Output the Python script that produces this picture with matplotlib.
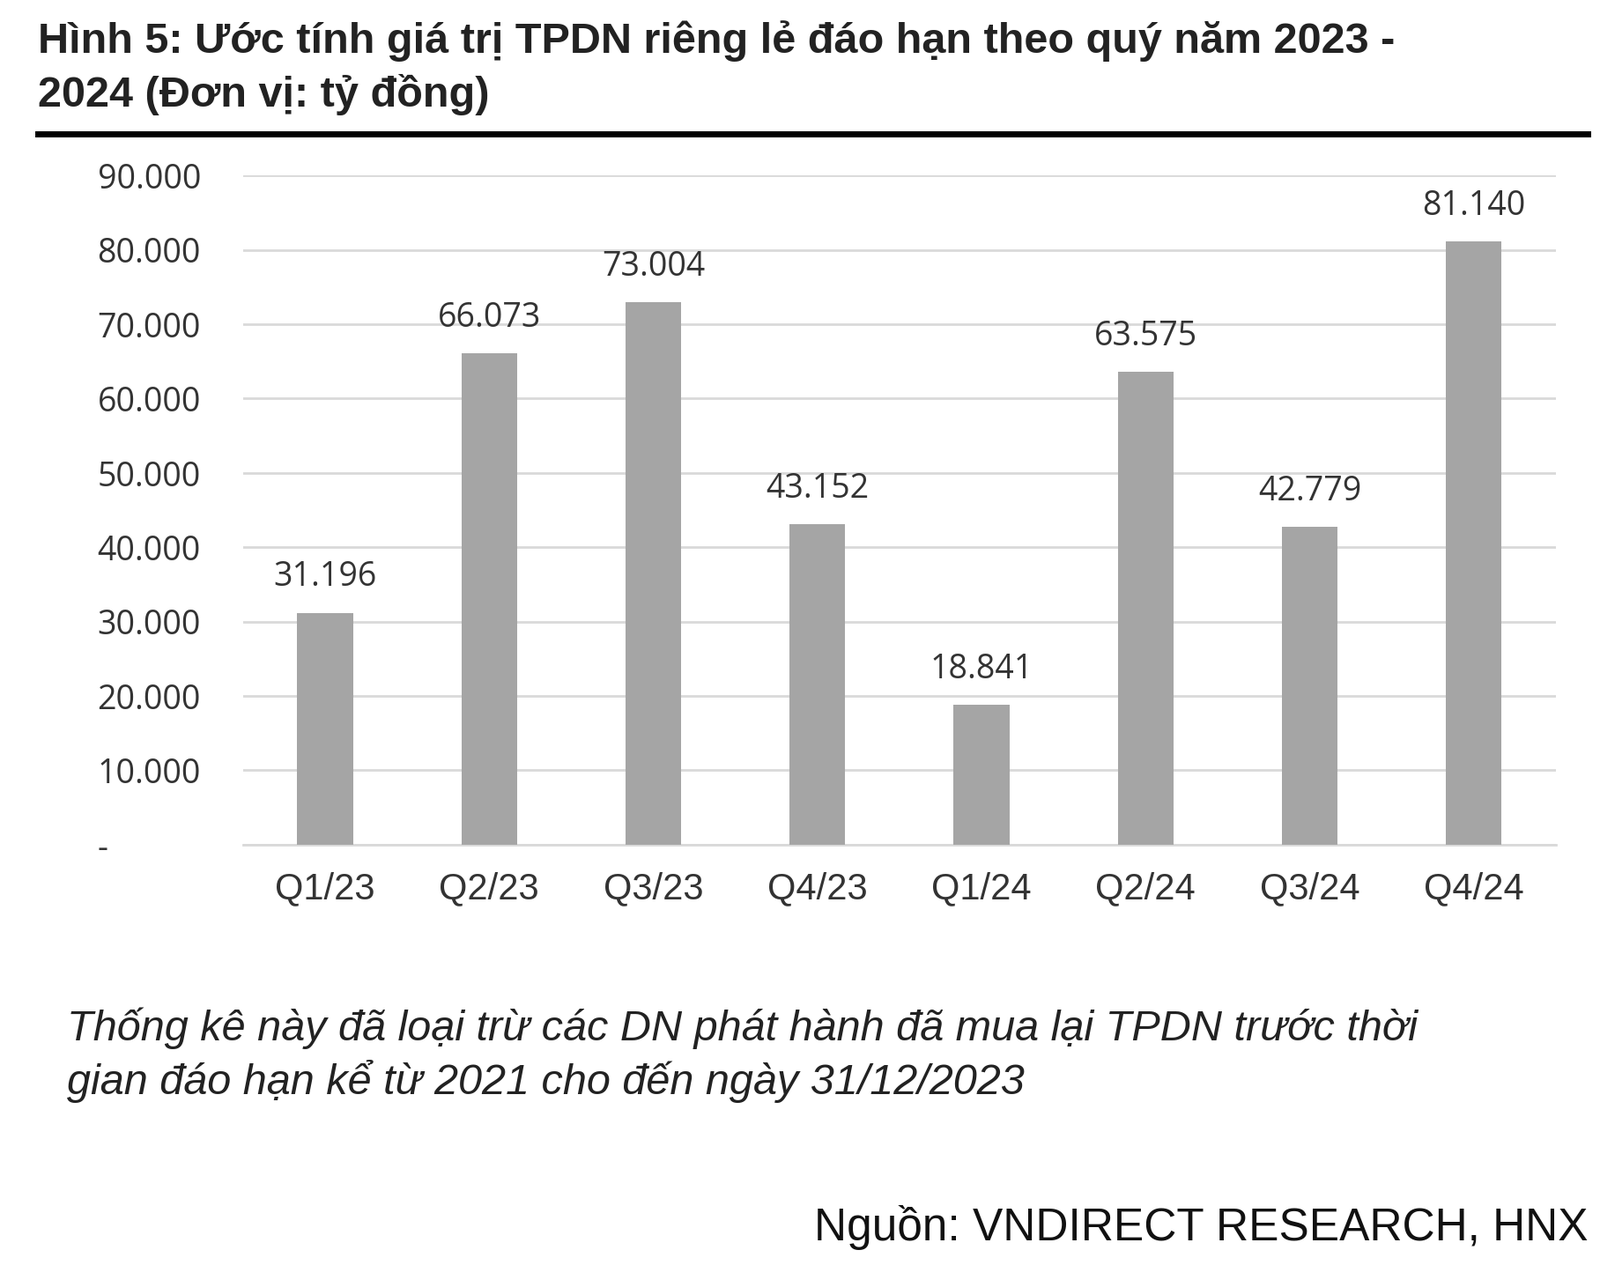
import matplotlib.pyplot as plt
from matplotlib.lines import Line2D

quarters = ["Q1/23", "Q2/23", "Q3/23", "Q4/23", "Q1/24", "Q2/24", "Q3/24", "Q4/24"]
values = [31196, 66073, 73004, 43152, 18841, 63575, 42779, 81140]
yticks = [0, 10000, 20000, 30000, 40000, 50000, 60000, 70000, 80000, 90000]

W, H = 1560, 1240  # reference display coords


def fmt(v):
    return "-" if v == 0 else f"{v:,}".replace(",", ".")


fig = plt.figure(figsize=(18.16, 14.36), dpi=100)
plt.rcParams["font.family"] = "Liberation Sans"

fig.text(37 / W, 1 - 40 / H, "Hình 5: Ước tính giá trị TPDN riêng lẻ đáo hạn theo quý năm 2023 -",
         fontsize=35, fontweight="bold", color="#222222", va="center")
fig.text(37 / W, 1 - 93 / H, "2024 (Đơn vị: tỷ đồng)",
         fontsize=35, fontweight="bold", color="#222222", va="center")
fig.add_artist(Line2D([37 / W, 1548 / W], [1 - 131 / H] * 2, color="black", lw=5))

ax = fig.add_axes([237 / W, 1 - 828 / H, (1517 - 237) / W, (828 - 172) / H])
x = range(len(quarters))
ax.bar(x, values, width=0.34, color="#A5A5A5", zorder=3)
for xi, v in zip(x, values):
    ax.text(xi, v + 2500, fmt(v), ha="center", va="bottom", fontsize=27,
            family="Open Sans", color="#333333")
ax.set_xlim(-0.5, len(quarters) - 0.5)
ax.set_ylim(0, 90000)
ax.set_yticks(yticks)
ax.set_yticklabels([fmt(v) for v in yticks], fontsize=27, family="Open Sans", color="#333333")
ax.set_xticks(list(x))
ax.set_xticklabels(quarters, fontsize=30, color="#333333")
ax.tick_params(length=0, axis="both")
ax.tick_params(axis="y", pad=119)
ax.tick_params(axis="x", pad=22)
ax.grid(axis="y", color="#D9D9D9", lw=2, zorder=0)
for s in ["top", "right", "left"]:
    ax.spines[s].set_visible(False)
ax.spines["bottom"].set_color("#D9D9D9")
ax.spines["bottom"].set_linewidth(2)
for lab in ax.get_yticklabels():
    lab.set_horizontalalignment("left")

fig.text(65 / W, 1 - 1008 / H,
         "Thống kê này đã loại trừ các DN phát hành đã mua lại TPDN trước thời",
         fontsize=35, style="italic", color="#222222", va="center")
fig.text(65 / W, 1 - 1060 / H, "gian đáo hạn kể từ 2021 cho đến ngày 31/12/2023",
         fontsize=35, style="italic", color="#222222", va="center")
fig.text(1548 / W, 1 - 1203 / H, "Nguồn: VNDIRECT RESEARCH, HNX",
         fontsize=37, color="#111111", va="center", ha="right")

fig.savefig("out.png", dpi=100)
